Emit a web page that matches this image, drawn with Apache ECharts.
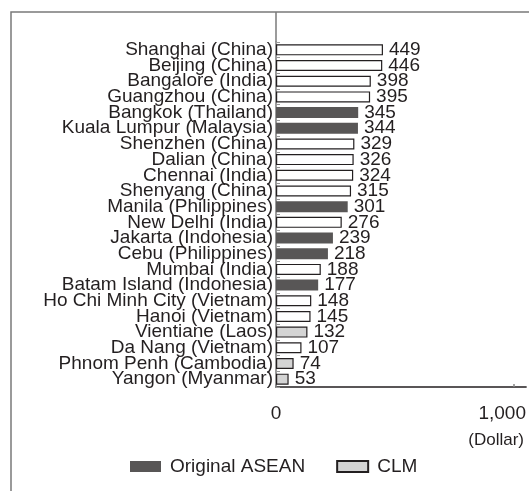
<!DOCTYPE html>
<html>
<head>
<meta charset="utf-8">
<script src="https://cdn.jsdelivr.net/npm/echarts@6/dist/echarts.min.js"></script>
<style>
  html, body { margin: 0; padding: 0; background: #fff; }
  #chart { width: 529px; height: 491px; }
</style>
</head>
<body>
<div id="chart"></div>
<script>
// Monthly wage by city (US dollars)
const cities = [
  'Shanghai (China)', 'Beijing (China)', 'Bangalore (India)', 'Guangzhou (China)',
  'Bangkok (Thailand)', 'Kuala Lumpur (Malaysia)', 'Shenzhen (China)', 'Dalian (China)',
  'Chennai (India)', 'Shenyang (China)', 'Manila (Philippines)', 'New Delhi (India)',
  'Jakarta (Indonesia)', 'Cebu (Philippines)', 'Mumbai (India)', 'Batam Island (Indonesia)',
  'Ho Chi Minh City (Vietnam)', 'Hanoi (Vietnam)', 'Vientiane (Laos)', 'Da Nang (Vietnam)',
  'Phnom Penh (Cambodia)', 'Yangon (Myanmar)'
];
const wages = [449, 446, 398, 395, 345, 344, 329, 326, 324, 315, 301, 276,
               239, 218, 188, 177, 148, 145, 132, 107, 74, 53];
// group of each city: other / asean (Original ASEAN) / clm (Cambodia, Laos, Myanmar)
const groups = ['other', 'other', 'other', 'other', 'asean', 'asean', 'other', 'other',
                'other', 'other', 'asean', 'other', 'asean', 'asean', 'other', 'asean',
                'other', 'other', 'clm', 'other', 'clm', 'clm'];
const xTicks = [0, 1000];

const FONT = "'Liberation Sans', Arial, Helvetica, sans-serif";
const TEXT = '#231f20';
const FS = 19;
const GRID_LEFT = 276, GRID_TOP = 42, GRID_BOTTOM = 104, FRAME_TOP = 12;

function pick(g) {
  return wages.map((v, i) => (groups[i] === g ? v : null));
}

const labelOpt = {
  show: true, position: 'right', distance: 6,
  fontFamily: FONT, fontSize: FS, color: TEXT
};

const chart = echarts.init(document.getElementById('chart'), null, { renderer: 'canvas' });
chart.setOption({
  animation: false,
  backgroundColor: '#ffffff',
  textStyle: { fontFamily: FONT, color: TEXT },
  grid: { left: GRID_LEFT, right: 0, top: GRID_TOP, bottom: GRID_BOTTOM, containLabel: false },
  legend: {
    data: ['Original ASEAN', 'CLM'],
    left: 125, top: 452,
    itemWidth: 31, itemHeight: 11, itemGap: 31,
    icon: 'rect',
    textStyle: { fontFamily: FONT, fontSize: FS, color: TEXT, padding: [0, 0, 0, 4] }
  },
  xAxis: {
    type: 'value', min: 0, max: 1050,
    splitLine: { show: false },
    axisLine: { show: true, lineStyle: { color: '#231f20', width: 1.5 } },
    axisTick: { show: true, inside: true, length: 3, customValues: xTicks,
                lineStyle: { color: '#888', width: 1.5 } },
    axisLabel: {
      customValues: xTicks, margin: 17,
      fontFamily: FONT, fontSize: FS, color: TEXT,
      formatter: v => v === 1000 ? '{r|1,000}' : String(v),
      rich: { r: { fontFamily: FONT, fontSize: FS, color: TEXT, padding: [0, 24, 0, 0] } }
    }
  },
  yAxis: {
    type: 'category', data: cities, inverse: true,
    axisLine: { show: true, lineStyle: { color: '#7a7a7a', width: 1.5 } },
    axisTick: { show: true, inside: true, length: 4, lineStyle: { color: '#999', width: 1 } },
    axisLabel: { interval: 0, margin: 3, fontFamily: FONT, fontSize: FS, color: TEXT }
  },
  series: [
    {
      name: 'Other', type: 'bar', stack: 'w', barWidth: 11,
      data: pick('other'),
      itemStyle: { color: '#ffffff', borderColor: '#231f20', borderWidth: 1.2 },
      label: labelOpt
    },
    {
      name: 'Original ASEAN', type: 'bar', stack: 'w', barWidth: 11,
      data: pick('asean'),
      itemStyle: { color: '#585656' },
      label: labelOpt
    },
    {
      name: 'CLM', type: 'bar', stack: 'w', barWidth: 11,
      data: pick('clm'),
      itemStyle: { color: '#d4d4d4', borderColor: '#231f20', borderWidth: 1.2 },
      label: labelOpt
    }
  ],
  graphic: [
    // outer frame (open to the right and bottom)
    { type: 'rect', silent: true, z: -1,
      shape: { x: 11, y: FRAME_TOP, width: 700, height: 700 },
      style: { fill: null, stroke: '#7a7a7a', lineWidth: 1.5 } },
    // vertical axis continues up to the frame
    { type: 'line', silent: true,
      shape: { x1: GRID_LEFT, y1: FRAME_TOP, x2: GRID_LEFT, y2: GRID_TOP },
      style: { stroke: '#7a7a7a', lineWidth: 1.5 } },
    // unit note
    { type: 'text', right: 5, top: 432, silent: true,
      style: { text: '(Dollar)', font: '17px ' + FONT, fill: TEXT } }
  ]
});
</script>
</body>
</html>
